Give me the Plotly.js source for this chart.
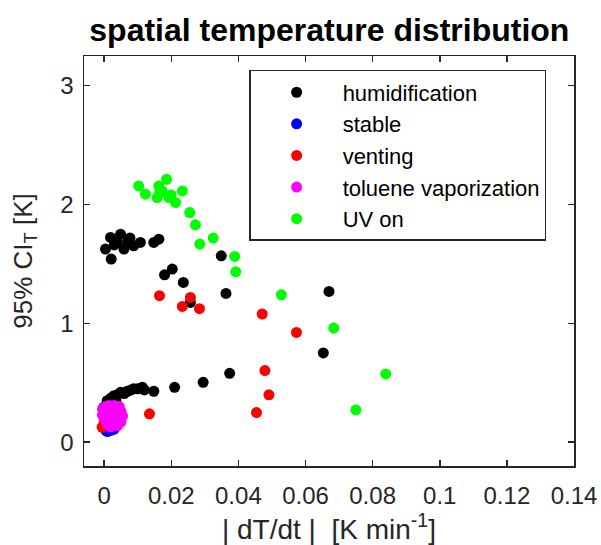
<!DOCTYPE html>
<html>
<head>
<meta charset="utf-8">
<script src="https://cdn.plot.ly/plotly-3.0.1.min.js"></script>
<style>html,body{margin:0;padding:0;background:#fff;}#chart{width:601px;height:545px;}</style>
</head>
<body>
<div id="chart"></div>
<script>
// humidification
const humX = [0.0004,0.0019,0.0021,0.0049,0.0039,0.0059,0.0077,0.0088,0.0108,0.0148,0.0163,0.003,0.007,
  0.0349,0.0203,0.0180,0.0236,0.0363,0.0257,0.0670,0.0653,
  0.0374,0.0295,0.0210,0.0148,0.0114,0.0088,0.0069,0.0049,0.0029,0.0009,-0.0001,
  0.002,0.004,0.001,0.006,0.008,0.010,0.012,0.0035,0.0015];
const humY = [1.625,1.723,1.541,1.751,1.681,1.625,1.718,1.653,1.681,1.681,1.709,1.66,1.69,
  1.569,1.457,1.409,1.345,1.252,1.176,1.269,0.751,
  0.580,0.504,0.462,0.429,0.462,0.449,0.429,0.420,0.392,0.350,0.294,
  0.37,0.40,0.32,0.41,0.44,0.45,0.44,0.35,0.28];
// stable
const stbX = [0.0005,0.001,0.002,0.003,0.0015,0.0005,0.001,0.003];
const stbY = [0.10,0.09,0.10,0.11,0.12,0.15,0.20,0.15];
// venting
const venX = [0.0165,0.0257,0.0233,0.0284,0.0471,0.0573,0.0479,0.0491,0.0454,0.0135,-0.0006,0.0];
const venY = [1.233,1.218,1.143,1.124,1.079,0.924,0.603,0.399,0.250,0.239,0.126,0.17];
// toluene vaporization
const tolX = [-0.0005,0.0005,0.0015,0.003,0.0045,0.005,0.0055,0.005,0.004,0.002,0.001,0.0,-0.0005,0.002,0.003,0.001,0.004,0.0025];
const tolY = [0.28,0.30,0.31,0.31,0.30,0.26,0.22,0.17,0.14,0.13,0.15,0.20,0.23,0.22,0.25,0.26,0.20,0.18];
// UV on
const uvX = [0.0103,0.0123,0.0163,0.0186,0.0173,0.0158,0.0193,0.0213,0.0233,0.0165,0.0200,
  0.0255,0.0272,0.0325,0.0285,0.0389,0.0392,0.0528,0.0684,0.0839,0.0750];
const uvY = [2.157,2.087,2.157,2.213,2.115,2.059,2.059,2.017,2.115,2.10,2.08,
  1.933,1.829,1.718,1.667,1.563,1.434,1.241,0.961,0.575,0.272];

const xTicks = [0,0.02,0.04,0.06,0.08,0.1,0.12,0.14];
const xTickText = ['0','0.02','0.04','0.06','0.08','0.1','0.12','0.14'];
const yTicks = [0,1,2,3];
const yTickText = ['0','1','2','3'];

const seriesNames = ['humidification','stable','venting','toluene vaporization','UV on'];
const seriesColors = ['#000000','#0000ff','#ff0000','#ff00ff','#00ff00'];
const seriesX = [humX, stbX, venX, tolX, uvX];
const seriesY = [humY, stbY, venY, tolY, uvY];

const traces = seriesNames.map((n,i)=>({
  type:'scatter', mode:'markers', name:n, x:seriesX[i], y:seriesY[i],
  marker:{color:seriesColors[i], size:11, line:{width:0}}
}));

const FONT = 'Liberation Sans, Arial, Helvetica, sans-serif';
const axCol = '#262626';
const layout = {
  width:601, height:545,
  margin:{l:84, r:27, t:56, b:79, pad:0},
  paper_bgcolor:'#fff', plot_bgcolor:'#fff',
  font:{family:FONT, color:'#262626', size:24},
  title:{text:'<b>spatial temperature distribution</b>', font:{family:FONT, size:32, color:'#000'},
    x:0.548, xanchor:'center', y:0.945, yanchor:'middle'},
  showlegend:true,
  legend:{x:0.337, xanchor:'left', y:0.966, yanchor:'top', bgcolor:'#fff',
    bordercolor:axCol, borderwidth:1.5, font:{family:FONT, size:22, color:'#000'},
    indentation:0, itemwidth:82, tracegroupgap:0},
  xaxis:{range:[-0.006,0.14], tickvals:xTicks, ticktext:xTickText,
    showline:true, mirror:'ticks', linecolor:axCol, linewidth:1.5,
    ticks:'inside', ticklen:6, tickwidth:1.5, tickcolor:axCol,
    showgrid:false, zeroline:false, tickfont:{size:24, color:'#262626'},
    ticklabelstandoff:8,
    title:{text:'| dT/dt |\u00a0 [K min<sup>-1</sup>]', font:{size:28, color:'#262626'}, standoff:0}},
  yaxis:{range:[-0.2,3.25], tickvals:yTicks, ticktext:yTickText,
    showline:true, mirror:'ticks', linecolor:axCol, linewidth:1.5,
    ticks:'inside', ticklen:6, tickwidth:1.5, tickcolor:axCol,
    showgrid:false, zeroline:false, tickfont:{size:24, color:'#262626'},
    ticklabelstandoff:4,
    title:{text:'95% CI<sub>T</sub> [K]', font:{size:26, color:'#262626'}, standoff:20}}
};
Plotly.newPlot('chart', traces, layout, {displayModeBar:false, staticPlot:true});
</script>
</body>
</html>
